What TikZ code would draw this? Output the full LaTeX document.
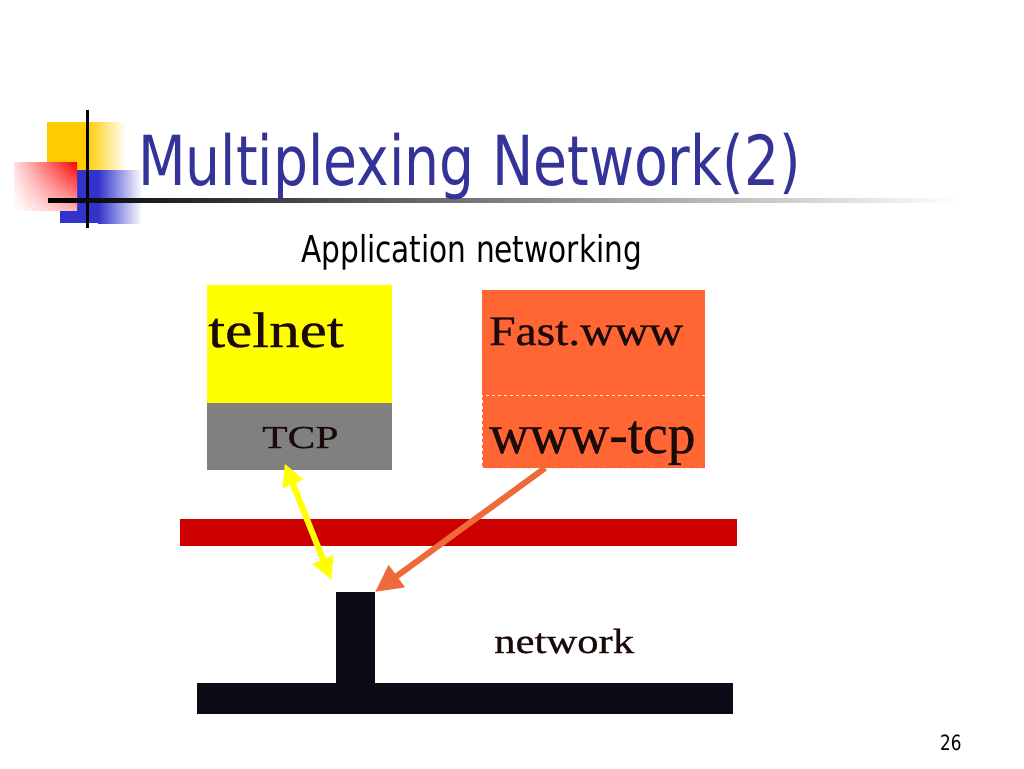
\documentclass[tikz,border=0pt]{standalone}
\usepackage{fontspec}
\usepackage{tikz}
\usetikzlibrary{arrows.meta, positioning, calc, shadings}
\setmainfont{Liberation Serif}
\newfontfamily\slidefont[FakeStretch=0.8]{DejaVu Sans}
\newfontfamily\boxfont[FakeBold=0.6]{Liberation Serif}

\definecolor{titleblue}{HTML}{333399}
\definecolor{gold}{HTML}{FFCC00}
\definecolor{deepblue}{HTML}{3333CC}
\definecolor{boxyellow}{HTML}{FFFF00}
\definecolor{boxgray}{HTML}{808080}
\definecolor{boxorange}{HTML}{FF6633}
\definecolor{arroworange}{HTML}{EE6A3A}
\definecolor{barred}{HTML}{CC0000}
\definecolor{netblack}{HTML}{0B0B16}
\definecolor{inkdark}{HTML}{1A0A0A}

\tikzset{
  layerbox/.style={inner sep=0pt, outer sep=0pt, anchor=north west},
  wordlabel/.style={inner sep=0pt, anchor=base west, text=inkdark},
  link/.style={line width=6pt},
}

\begin{document}
\begin{tikzpicture}[x=1pt, y=1pt]
    \useasboundingbox[fill=white] (0,0) rectangle (1024,-768);

    % Corner decoration
    \fill[gold] (47,-122) rectangle (86,-190);
    \shade[left color=gold, right color=white] (86,-122) rectangle (126,-190);
    \fill[deepblue] (60,-170) rectangle (98,-223);
    \shade[left color=deepblue, right color=white] (98,-170) rectangle (142,-223);
    \shade[upper right=red, upper left=red!12, lower right=red!30, lower left=white]
        (14,-162) rectangle (77,-210);
    \fill[black] (85.5,-110) rectangle (88.5,-228);
    \shade[left color=black, middle color=black!55, right color=white]
        (48,-198) rectangle (960,-202);

    % Titles
    \node[inner sep=0pt, anchor=base west, text=titleblue,
          font=\slidefont\fontsize{69}{69}\selectfont] (title) at (138,-185)
          {Multiplexing Network(2)};
    \node[inner sep=0pt, anchor=base west,
          font=\slidefont\fontsize{37}{37}\selectfont] (subtitle) at (301,-262)
          {Application networking};

    % Protocol stacks
    \node[layerbox, fill=boxyellow, minimum width=185pt, minimum height=118pt]
        (telnet) at (207,-285) {};
    \node[layerbox, fill=boxgray, minimum width=185pt, minimum height=67pt]
        (tcp) at (telnet.south west) {};
    \node[layerbox, fill=boxorange, minimum width=223pt, minimum height=105pt]
        (fast) at (482,-290) {};
    \node[layerbox, fill=boxorange, minimum width=223pt, minimum height=73pt]
        (wwwtcp) at (fast.south west) {};
    \draw[white!85!boxorange, dashed, line width=1pt] (wwwtcp.north east)
        -- (wwwtcp.north west) -- (wwwtcp.south west) -- (wwwtcp.south east);

    \node[wordlabel, font=\boxfont\fontsize{50}{50}\selectfont] (telnettext)
        at (208,-347) {\scalebox{1.22}[1]{telnet}};
    \node[wordlabel, font=\boxfont\fontsize{32}{32}\selectfont] (tcptext)
        at (262,-448) {\scalebox{1.3}[1]{TCP}};
    \node[wordlabel, font=\boxfont\fontsize{42}{42}\selectfont] (fasttext)
        at (489,-345) {\scalebox{1.13}[1]{Fast.www}};
    \node[wordlabel, font=\boxfont\fontsize{56}{56}\selectfont] (wwwtext)
        at (489,-453) {\scalebox{0.99}[1]{www-tcp}};

    % Red layer and network
    \node[layerbox, fill=barred, minimum width=557pt, minimum height=27pt]
        (bar) at (180,-519) {};
    \node[layerbox, fill=netblack, minimum width=39pt, minimum height=92pt]
        (stem) at (336,-592) {};
    \node[layerbox, fill=netblack, minimum width=536pt, minimum height=31pt]
        (base) at (197,-683) {};
    \node[wordlabel, font=\boxfont\fontsize{35}{35}\selectfont] (nettext)
        at (494,-653) {\scalebox{1.22}[1]{network}};

    % Arrows
    \draw[link, boxyellow, {Triangle[length=22pt,width=21pt]}-{Triangle[length=22pt,width=21pt]},
          shorten <=-7pt, shorten >=13pt] (tcp.-110) -- (stem.north west);
    \draw[link, arroworange, -{Triangle[length=27pt,width=26pt]}]
        (wwwtcp.-143) -- (stem.north east);

    % Page number
    \node[inner sep=0pt, anchor=base west,
          font=\slidefont\fontsize{21}{21}\selectfont] (page) at (940,-750) {26};
\end{tikzpicture}
\end{document}
